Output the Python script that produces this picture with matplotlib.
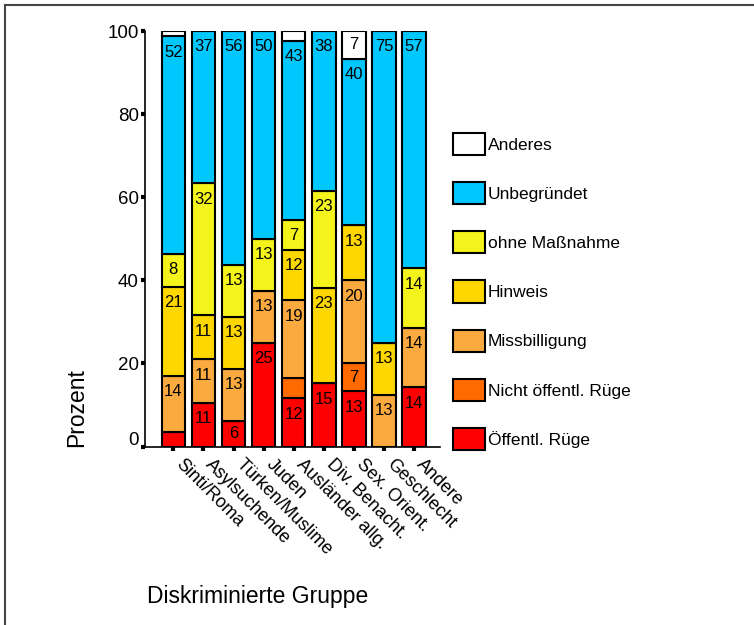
import matplotlib
matplotlib.use("Agg")
import matplotlib.pyplot as plt
import matplotlib.transforms as mtransforms
from matplotlib.patches import Patch
from matplotlib.lines import Line2D
import numpy as np

plt.rcParams['font.family'] = ['Liberation Sans', 'DejaVu Sans']

# groups on the x axis
groups = ["Sinti/Roma", "Asylsuchende", "Türken/Muslime", "Juden", "Ausländer allg.",
          "Div. Benacht.", "Sex. Orient.", "Geschlecht", "Andere"]

# stacked shares in percent, bottom to top
oeffentl_ruege = [3.4, 10.5, 6.2, 25.0, 11.6, 15.2, 13.3, 0.0, 14.3]
nicht_oeffentl = [0.0, 0.0, 0.0, 0.0, 5.0, 0.0, 6.7, 0.0, 0.0]
missbilligung = [13.6, 10.5, 12.5, 12.5, 18.6, 0.0, 20.0, 12.5, 14.3]
hinweis = [21.4, 10.6, 12.5, 0.0, 12.2, 23.0, 13.3, 12.5, 0.0]
ohne_massnahme = [8.0, 31.7, 12.5, 12.5, 7.0, 23.4, 0.0, 0.0, 14.3]
unbegruendet = [52.3, 36.7, 56.3, 50.0, 43.2, 38.4, 40.0, 75.0, 57.1]
anderes = [1.3, 0.0, 0.0, 0.0, 2.4, 0.0, 6.7, 0.0, 0.0]

series = [oeffentl_ruege, nicht_oeffentl, missbilligung, hinweis,
          ohne_massnahme, unbegruendet, anderes]
names = ["Öffentl. Rüge", "Nicht öffentl. Rüge", "Missbilligung", "Hinweis",
         "ohne Maßnahme", "Unbegründet", "Anderes"]
colors = ["#FF0000", "#FF6A00", "#FBAA40", "#FFD700", "#F4F41C", "#00C8FF", "#FFFFFF"]

fig = plt.figure(figsize=(7.54, 6.25), dpi=100)
ax = fig.add_axes([145 / 754, 1 - 446.5 / 625, 295 / 754, 415.5 / 625])

x = np.arange(len(groups))
bottom = np.zeros(len(groups))
for vals, col in zip(series, colors):
    vals = np.array(vals)
    ax.bar(x, vals, width=0.78, bottom=bottom, color=col, edgecolor="black",
           linewidth=1.5, zorder=2)
    # value labels sit near the top of each segment
    for xi, b, v in zip(x, bottom, vals):
        if v > 5.5:
            ty = max(b + v / 2, b + v - 3.85)
            ax.text(xi, ty, str(int(v + 0.5)), ha="center", va="center",
                    fontsize=12, color="black", zorder=3)
    bottom = bottom + vals

ax.set_xlim(-0.94, 8.86)
ax.set_ylim(0, 100)
ax.set_yticks([0, 20, 40, 60, 80, 100])
ax.set_xticks(x)
ax.set_xticklabels(groups, rotation=-45, ha="left", va="top",
                   rotation_mode="anchor", fontsize=13)
ax.tick_params(axis="y", direction="out", length=3, width=3, labelsize=13.5, pad=1.5)
ax.tick_params(axis="x", direction="out", length=3, width=3, pad=6)
for s in ["top", "right"]:
    ax.spines[s].set_visible(False)
for s in ["left", "bottom"]:
    ax.spines[s].set_linewidth(1.2)

# the 0 label sits a bit higher in the original
lbl0 = ax.get_yticklabels()[0]
lbl0.set_transform(lbl0.get_transform() +
                   mtransforms.ScaledTranslation(0, 8 / 100, fig.dpi_scale_trans))
# x labels start a little to the right of their tick
for lbl in ax.get_xticklabels():
    lbl.set_transform(lbl.get_transform() +
                      mtransforms.ScaledTranslation(11 / 100, 3 / 100, fig.dpi_scale_trans))

fig.text(77 / 754, 1 - 408 / 625, "Prozent", rotation=90, ha="center", va="center",
         fontsize=16.5)
fig.text(147 / 754, 1 - 596 / 625, "Diskriminierte Gruppe", ha="left", va="center",
         fontsize=16.5)

handles = [Patch(facecolor=c, edgecolor="black", linewidth=1.5) for c in colors[::-1]]
fig.legend(handles, names[::-1], loc="upper left",
           bbox_to_anchor=(453.3 / 754, 1 - 132.7 / 625), frameon=False,
           borderpad=0, borderaxespad=0, fontsize=12.5, handlelength=1.84,
           handleheight=1.6, labelspacing=1.55, handletextpad=0.15)

# frame lines at the left and top edge
fig.add_artist(Line2D([5 / 754, 5 / 754], [0, 1 - 5 / 625], color="#444444",
                      linewidth=1.5, transform=fig.transFigure))
fig.add_artist(Line2D([5 / 754, 1], [1 - 5 / 625, 1 - 5 / 625], color="#444444",
                      linewidth=1.5, transform=fig.transFigure))

fig.savefig("out.png", dpi=100)
